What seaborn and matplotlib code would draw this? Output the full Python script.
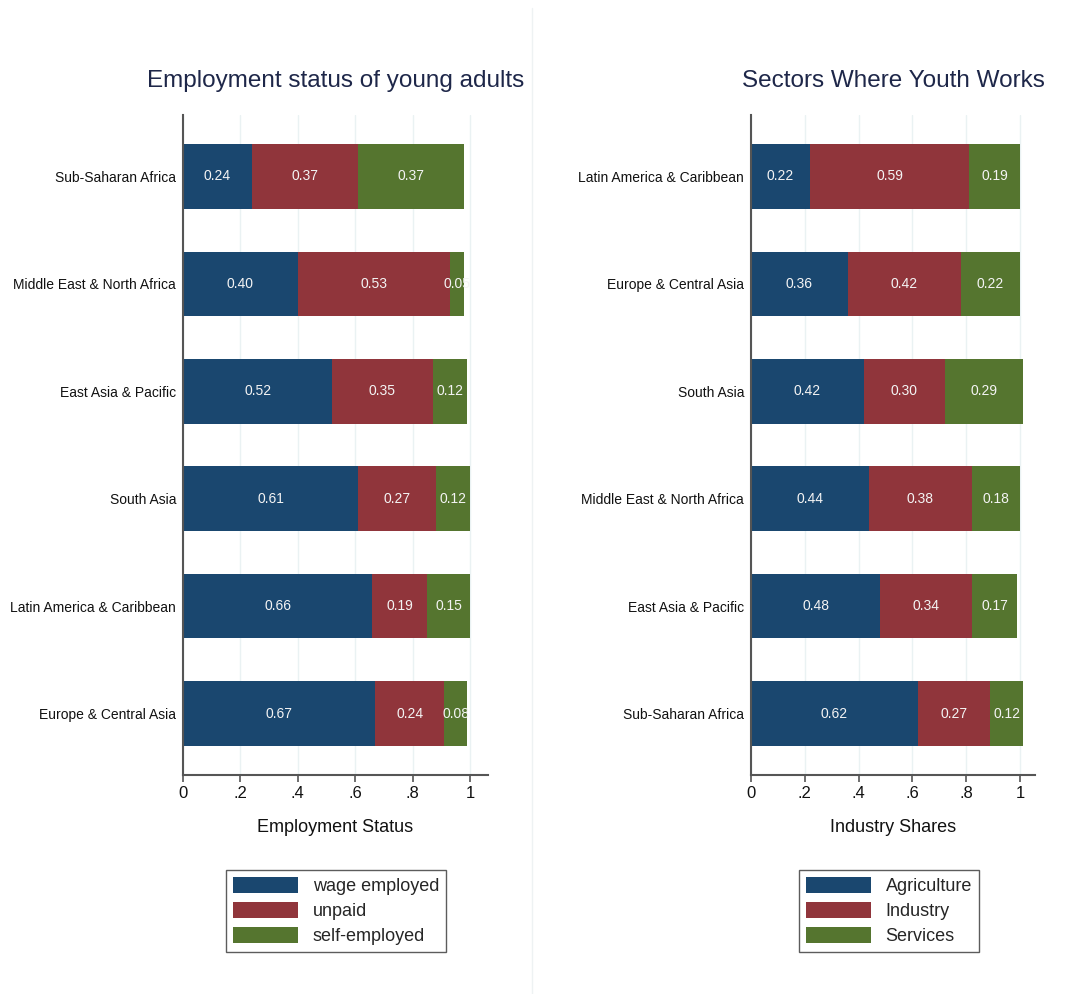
import matplotlib
matplotlib.use("Agg")
import matplotlib.pyplot as plt
import matplotlib.patches as mpatches
import seaborn as sns
import pandas as pd
import numpy as np

sns.set_theme(style="white")
plt.rcParams['font.family'] = ['Liberation Sans', 'DejaVu Sans']

# ---- data ----
emp_regions = ["Sub-Saharan Africa", "Middle East & North Africa", "East Asia & Pacific",
               "South Asia", "Latin America & Caribbean", "Europe & Central Asia"]
emp_wage = [0.24, 0.40, 0.52, 0.61, 0.66, 0.67]
emp_unpaid = [0.37, 0.53, 0.35, 0.27, 0.19, 0.24]
emp_self = [0.37, 0.05, 0.12, 0.12, 0.15, 0.08]
emp_legend = ["wage employed", "unpaid", "self-employed"]

sec_regions = ["Latin America & Caribbean", "Europe & Central Asia", "South Asia",
               "Middle East & North Africa", "East Asia & Pacific", "Sub-Saharan Africa"]
sec_agri = [0.22, 0.36, 0.42, 0.44, 0.48, 0.62]
sec_ind = [0.59, 0.42, 0.30, 0.38, 0.34, 0.27]
sec_serv = [0.19, 0.22, 0.29, 0.18, 0.17, 0.12]
sec_legend = ["Agriculture", "Industry", "Services"]

x_ticks = [0, 0.2, 0.4, 0.6, 0.8, 1.0]
x_ticklabels = ["0", ".2", ".4", ".6", ".8", "1"]

colors = ["#1a476f", "#90353b", "#55752f"]
title_color = "#1e2749"

fig = plt.figure(figsize=(10.70, 9.94), dpi=100)
W, H = 1070, 994


def panel(rect, regions, series, title, xlabel, xmax, legend_labels, legend_x):
    ax = fig.add_axes(rect)
    df = pd.DataFrame({"region": regions})
    cums = np.cumsum(np.array(series), axis=0)
    # draw cumulative totals from largest to smallest (overlay stacking)
    full_patches = None
    for i in range(len(series) - 1, -1, -1):
        df["v"] = cums[i]
        n_before = len(ax.patches)
        sns.barplot(data=df, x="v", y="region", order=regions, orient="y",
                    color=colors[i], saturation=1, width=0.6, ax=ax,
                    linewidth=0, errorbar=None)
        if i == len(series) - 1:
            full_patches = ax.patches[n_before:]
    # labels
    for i, vals in enumerate(series):
        before = cums[i] - np.array(vals)
        for j, v in enumerate(vals):
            t = ax.text(before[j] + v / 2, j, f"{v:.2f}", ha="center", va="center",
                        color="#f4f4f4", fontsize=10, zorder=5)
            t.set_clip_path(full_patches[j])
    ax.set_xlim(0, xmax)
    ax.set_ylim(len(regions) - 0.43, -0.57)
    ax.set_xticks(x_ticks)
    ax.set_xticklabels(x_ticklabels, fontsize=12)
    ax.tick_params(axis="x", bottom=True, length=5, width=1.2, color="#555555",
                   direction="out", pad=3, labelcolor="#111111")
    ax.tick_params(axis="y", left=False, length=0, labelsize=10, pad=5,
                   labelcolor="#111111")
    ax.set_ylabel("")
    ax.set_xlabel(xlabel, fontsize=13, labelpad=13, color="#111111")
    for s in ["top", "right"]:
        ax.spines[s].set_visible(False)
    for s in ["left", "bottom"]:
        ax.spines[s].set_color("#555555")
        ax.spines[s].set_linewidth(1.5)
    ax.set_axisbelow(True)
    ax.grid(axis="x", color="#eaf2f3", linewidth=1.0)
    ax.grid(axis="y", visible=False)
    ax.set_title(title, fontsize=17.5, color=title_color, pad=20)
    handles = [mpatches.Patch(facecolor=c, edgecolor="none") for c in colors]
    leg = fig.legend(handles, legend_labels, loc="upper center",
                     bbox_to_anchor=(legend_x, 1 - 861 / H), fontsize=13,
                     frameon=True, fancybox=False, handlelength=3.6, handleheight=0.95,
                     labelspacing=0.38, borderpad=0.4, handletextpad=0.8)
    leg.get_frame().set_edgecolor("#333333")
    leg.get_frame().set_linewidth(1.0)
    return ax


top = 115
bottom = 775
panel([183 / W, 1 - bottom / H, (488 - 183) / W, (bottom - top) / H],
      emp_regions, [emp_wage, emp_unpaid, emp_self],
      "Employment status of young adults", "Employment Status", 305 / 287,
      emp_legend, 336 / W)
panel([751 / W, 1 - bottom / H, (1035 - 751) / W, (bottom - top) / H],
      sec_regions, [sec_agri, sec_ind, sec_serv],
      "Sectors Where Youth Works", "Industry Shares", 284 / 269,
      sec_legend, 889 / W)

# faint panel separator
fig.add_artist(plt.Line2D([532 / W, 532 / W], [0, 1 - 8 / H], transform=fig.transFigure,
                          color="#eef2f3", linewidth=1))

fig.savefig("out.png", dpi=100, facecolor="white")
